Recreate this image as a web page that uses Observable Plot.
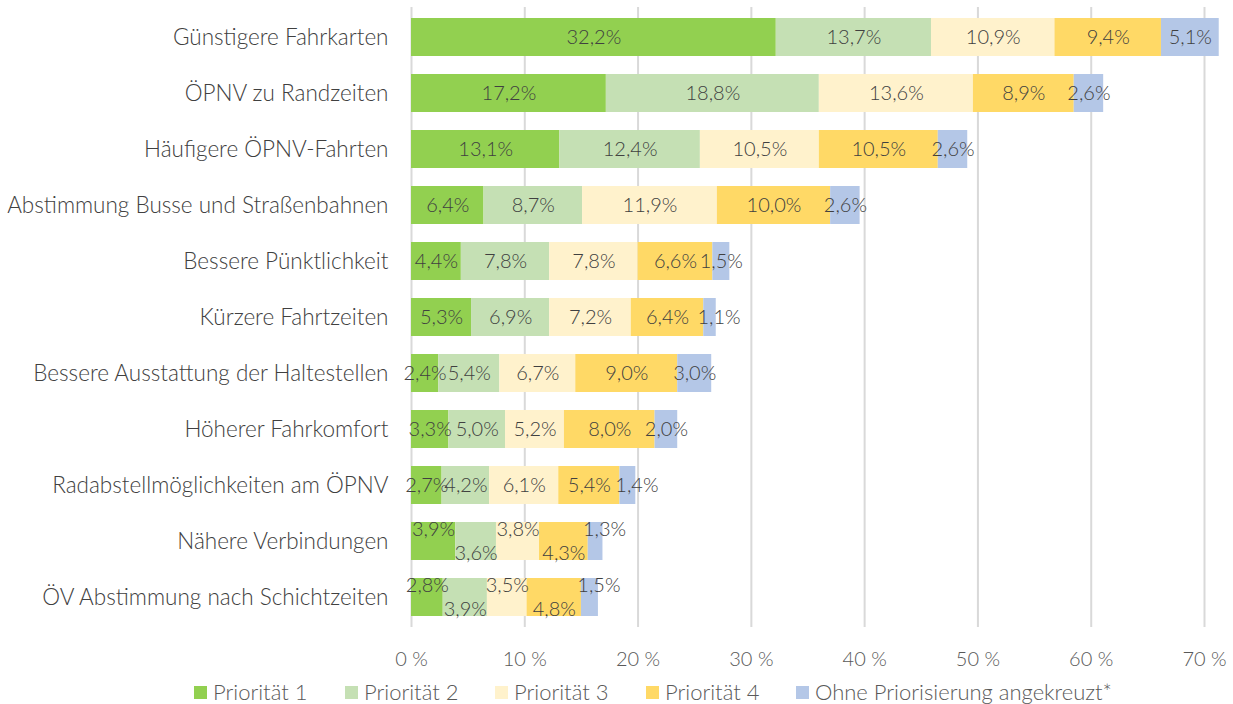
<!DOCTYPE html>
<html><head><meta charset="utf-8">
<script src="https://cdn.jsdelivr.net/npm/d3@7"></script>
<script src="https://cdn.jsdelivr.net/npm/@observablehq/plot@0.6"></script>
<style>
body{margin:0;background:#fff;font-family:Lato,"Open Sans",sans-serif;font-weight:300;}
#legend{position:relative;height:24px;}
.li{position:absolute;top:0;display:flex;align-items:center;font-size:22px;color:#595959;white-space:nowrap;line-height:24px;}
.sw{width:13px;height:13px;margin-right:6px;}
svg text{font-weight:300;}
</style></head><body>
<div id="chart"></div>
<div id="legend"></div>
<script>
const categories = ["Günstigere Fahrkarten","ÖPNV zu Randzeiten","Häufigere ÖPNV-Fahrten","Abstimmung Busse und Straßenbahnen","Bessere Pünktlichkeit","Kürzere Fahrtzeiten","Bessere Ausstattung der Haltestellen","Höherer Fahrkomfort","Radabstellmöglichkeiten am ÖPNV","Nähere Verbindungen","ÖV Abstimmung nach Schichtzeiten"];
const series = ["Priorität 1","Priorität 2","Priorität 3","Priorität 4","Ohne Priorisierung angekreuzt*"];
const colors = ["#92D050","#C5E0B4","#FFF2CC","#FFD966","#B4C7E7"];
const prio1 = [32.2,17.2,13.1,6.4,4.4,5.3,2.4,3.3,2.7,3.9,2.8];
const prio2 = [13.7,18.8,12.4,8.7,7.8,6.9,5.4,5.0,4.2,3.6,3.9];
const prio3 = [10.9,13.6,10.5,11.9,7.8,7.2,6.7,5.2,6.1,3.8,3.5];
const prio4 = [9.4,8.9,10.5,10.0,6.6,6.4,9.0,8.0,5.4,4.3,4.8];
const ohne  = [5.1,2.6,2.6,2.6,1.5,1.1,3.0,2.0,1.4,1.3,1.5];
const xTicks = [0,10,20,30,40,50,60,70];
const staggered = new Set(["Nähere Verbindungen","ÖV Abstimmung nach Schichtzeiten"]);

const vals = [prio1,prio2,prio3,prio4,ohne];
const rows = [];
categories.forEach((c,i)=>{
  let acc = 0;
  series.forEach((s,j)=>{
    const v = vals[j][i];
    const stag = staggered.has(c);
    const shift = j === 4 && (v < 1.5 || stag);
    rows.push({cat:c, series:s, value:v, x1:acc, x2:acc+v, xm:acc+v/2, j, stag, shift});
    acc += v;
  });
});
const fmt = v => v.toFixed(1).replace(".", ",") + "%";
const font = "Lato, 'Open Sans', sans-serif";
const groups = [
  {data: rows.filter(d=>!d.stag && !d.shift), dx:0, dy:0},
  {data: rows.filter(d=>!d.stag && d.shift), dx:9, dy:0},
  {data: rows.filter(d=>d.stag && d.j%2===0 && !d.shift), dx:0, dy:-12},
  {data: rows.filter(d=>d.stag && d.shift), dx:9, dy:-12},
  {data: rows.filter(d=>d.stag && d.j%2===1), dx:0, dy:12}
];
const lab = {fill:"#404040", fontSize:20};

const chart = Plot.plot({
  width:1233, height:680,
  marginLeft:411, marginRight:29, marginTop:7, marginBottom:53,
  style:{fontFamily:font, background:"#fff"},
  x:{domain:[0,70], label:null},
  y:{domain:categories, paddingInner:0.32, paddingOuter:0.16, label:null},
  color:{domain:series, range:colors},
  marks:[
    Plot.ruleX(xTicks,{stroke:"#d9d9d9", strokeWidth:2}),
    Plot.barX(rows,{x1:"x1", x2:"x2", y:"cat", fill:"series"}),
    ...groups.map(g => Plot.text(g.data,{x:"xm", y:"cat", text:d=>fmt(d.value), ...lab, dx:g.dx, dy:g.dy})),
    Plot.axisX({ticks:xTicks, tickFormat:d=>d+" %", tickSize:0, tickPadding:24, fontSize:20, color:"#595959", label:null}),
    Plot.axisY({tickSize:0, tickPadding:23, fontSize:22.5, color:"#404040", label:null})
  ]
});
document.getElementById("chart").appendChild(chart);

const leg = document.getElementById("legend");
const lx = [194,345,495,646,796];
series.forEach((s,i)=>{
  const d = document.createElement("div");
  d.className="li"; d.style.left = lx[i]+"px";
  d.innerHTML = `<span class="sw" style="background:${colors[i]}"></span>${s}`;
  leg.appendChild(d);
});
</script>
</body></html>
